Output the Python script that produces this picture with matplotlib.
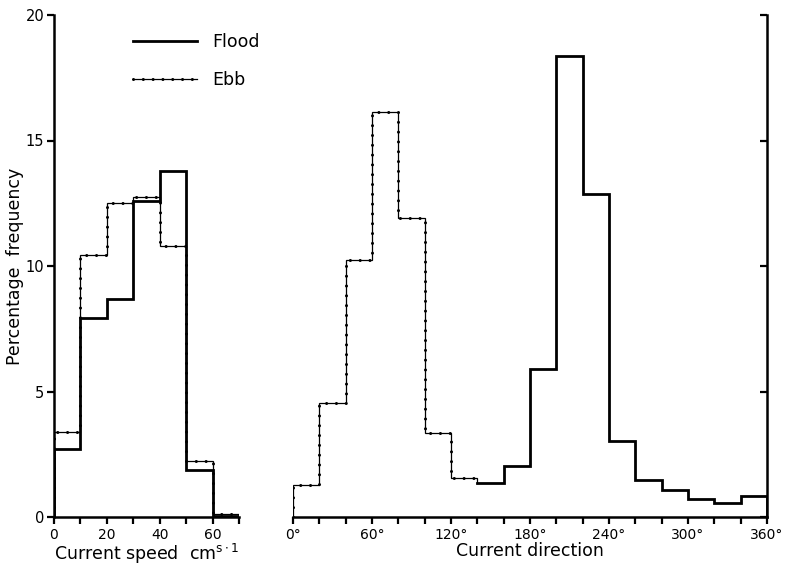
import numpy as np
import matplotlib
matplotlib.use('Agg')
import matplotlib.pyplot as plt
from matplotlib.lines import Line2D

plt.rcParams['font.family'] = ['DejaVu Sans']

# current speed histogram, 10 cm/s bins
speed_edges = [0, 10, 20, 30, 40, 50, 60, 70]
flood_speed = [2.70, 7.92, 8.70, 12.58, 13.80, 1.87, 0.05]
ebb_speed = [3.37, 10.42, 12.50, 12.75, 10.80, 2.22, 0.10]

# current direction histogram, 20 degree bins
ebb_dir_edges = [0, 20, 40, 60, 80, 100, 120, 140]
ebb_dir = [1.27, 4.55, 10.25, 16.12, 11.92, 3.33, 1.54]
flood_dir_edges = [140, 160, 180, 200, 220, 240, 260, 280, 300, 320, 340, 360]
flood_dir = [1.37, 2.04, 5.88, 18.37, 12.87, 3.04, 1.47, 1.08, 0.73, 0.55, 0.84]

speed_ticks = [0, 10, 20, 30, 40, 50, 60, 70]
speed_labels = ['0', '', '20', '', '40', '', '60', '']
dir_ticks = list(range(0, 361, 20))
dir_labels = [('%d°' % d if d % 60 == 0 else '') for d in dir_ticks]
y_ticks = [0, 5, 10, 15, 20]

W, H = 786, 568
fig = plt.figure(figsize=(W / 100, H / 100), dpi=100)

ax1 = fig.add_axes([54 / W, 1 - 517 / H, 185 / W, 502 / H])
ax2 = fig.add_axes([293 / W, 1 - 517 / H, 474 / W, 502 / H])

EBB_THIN = dict(color='black', lw=0.9, solid_joinstyle='miter')
EBB_DOTS = dict(color='black', lw=2.2, linestyle=(0, (0.01, 3.2)),
                dash_capstyle='round')
FLOOD = dict(color='black', lw=2.0, solid_joinstyle='miter')


def step_path(edges, vals, start=0.0, end=0.0):
    x = np.repeat(edges, 2)
    y = np.concatenate([[start], np.repeat(vals, 2), [end]])
    return x, y


# speed panel
xs, ys = step_path(speed_edges, ebb_speed)
ax1.plot(xs, ys, **EBB_THIN)
ax1.plot(xs, ys, **EBB_DOTS)
xs, ys = step_path(speed_edges, flood_speed)
ax1.plot(xs, ys, **FLOOD)

ax1.set_xlim(0, 70)
ax1.set_ylim(0, 20)
ax1.set_xticks(speed_ticks)
ax1.set_xticklabels(speed_labels)
ax1.set_yticks(y_ticks)
ax1.spines['top'].set_visible(False)
ax1.spines['right'].set_visible(False)
ax1.tick_params(axis='x', direction='out', length=5, width=1.6, labelsize=10, pad=3)
ax1.tick_params(axis='y', direction='out', length=5, width=1.6, labelsize=10.5, pad=2)
ax1.set_xlabel('Current speed  cm$^{\\mathrm{s\\cdot1}}$', fontsize=12.5, labelpad=0)
ax1.set_ylabel('Percentage  frequency', fontsize=12.5, labelpad=1)

# direction panel
xs, ys = step_path(ebb_dir_edges, ebb_dir, 0.0, flood_dir[0])
ax2.plot(xs, ys, **EBB_THIN)
ax2.plot(xs, ys, **EBB_DOTS)
xs, ys = step_path(flood_dir_edges, flood_dir, flood_dir[0], 0.0)
ax2.plot(xs[1:], ys[1:], **FLOOD)

ax2.set_xlim(0, 360)
ax2.set_ylim(0, 20)
ax2.set_xticks(dir_ticks)
ax2.set_xticklabels(dir_labels)
ax2.set_yticks(y_ticks)
ax2.yaxis.tick_right()
ax2.spines['top'].set_visible(False)
ax2.spines['left'].set_visible(False)
ax2.tick_params(axis='x', direction='out', length=5, width=1.6, labelsize=10, pad=3)
ax2.tick_params(axis='y', direction='in', length=5, width=1.6, labelright=False)
ax2.set_xlabel('Current direction', fontsize=12.5, labelpad=0)

for ax in (ax1, ax2):
    for s in ax.spines.values():
        s.set_linewidth(1.8)
    ax.patch.set_alpha(0)

# legend
h_flood = Line2D([], [], **FLOOD)
h_ebb = (Line2D([], [], **EBB_THIN), Line2D([], [], **EBB_DOTS))
fig.legend([h_flood, h_ebb], ['Flood', 'Ebb'], loc='upper left',
           bbox_to_anchor=(133 / W, 1 - 33 / H), frameon=False,
           fontsize=12.5, handlelength=3.7, handletextpad=0.85,
           labelspacing=1.15, borderpad=0, borderaxespad=0)

fig.savefig('out.png', dpi=100)
